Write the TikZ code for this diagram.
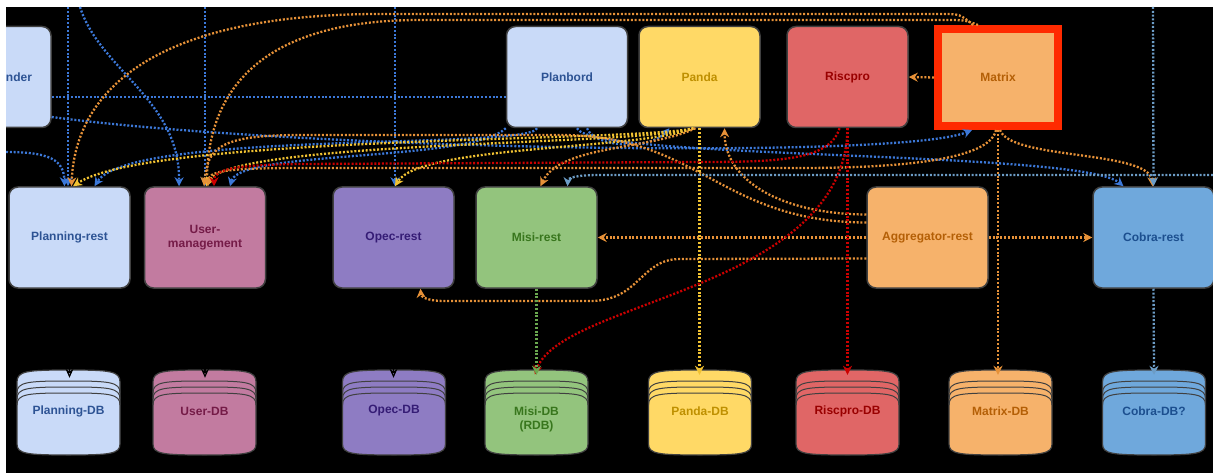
\documentclass[tikz,border=0pt]{standalone}
\usepackage{fontspec}
\setmainfont{Liberation Sans}
\usetikzlibrary{arrows.meta,positioning}

\definecolor{planblue}{HTML}{C9DAF8}
\definecolor{plantext}{HTML}{2D5394}
\definecolor{pandayel}{HTML}{FFD966}
\definecolor{pandatext}{HTML}{BF9000}
\definecolor{riscred}{HTML}{E06666}
\definecolor{risctext}{HTML}{990000}
\definecolor{matrixorg}{HTML}{F6B26B}
\definecolor{matrixtext}{HTML}{B45F06}
\definecolor{matrixframe}{HTML}{FF2A00}
\definecolor{userpink}{HTML}{C27BA0}
\definecolor{usertext}{HTML}{741B47}
\definecolor{opecpurple}{HTML}{8E7CC3}
\definecolor{opectext}{HTML}{351C75}
\definecolor{misigreen}{HTML}{93C47D}
\definecolor{misitext}{HTML}{38761D}
\definecolor{cobrablue}{HTML}{6FA8DC}
\definecolor{cobratext}{HTML}{1C4F8F}
\definecolor{boxedge}{HTML}{404040}
\definecolor{lblue}{HTML}{3C78D8}
\definecolor{lorange}{HTML}{E69138}
\definecolor{lyellow}{HTML}{F1C232}
\definecolor{lred}{HTML}{CC0000}
\definecolor{lteal}{HTML}{6C9CC6}
\definecolor{lgreen}{HTML}{6AA84F}

% database drum: name, x, fill, text colour, text y, label
\newcommand{\dbstore}[6]{%
  \path[fill=#3, draw=boxedge, line width=1.2pt]
    (#2-51.5,382) .. controls (#2-51.5,371) and (#2-41.5,370) .. (#2,370)
    .. controls (#2+41.5,370) and (#2+51.5,371) .. (#2+51.5,382) -- (#2+51.5,444)
    .. controls (#2+51.5,454) and (#2+41.5,455) .. (#2,455)
    .. controls (#2-41.5,455) and (#2-51.5,454) .. (#2-51.5,444) -- cycle;
  \foreach \k in {11,17,23}
    \draw[boxedge, line width=1pt] (#2-51.5,382+\k) .. controls (#2-51.5,371+\k) and (#2-41.5,370+\k) .. (#2,370+\k)
      .. controls (#2+41.5,370+\k) and (#2+51.5,371+\k) .. (#2+51.5,382+\k);
  \node[store] (#1) at (#2,412.5) {};
  \node[storetext, text=#4] at (#2,#5) {#6};
}

\begin{document}
\begin{tikzpicture}[
  x=1pt, y=-1pt,
  box/.style={rectangle, rounded corners=9pt, draw=boxedge, line width=1.5pt, minimum width=121pt, minimum height=101pt, align=center, font=\bfseries\fontsize{12}{14}\selectfont},
  store/.style={rectangle, minimum width=103pt, minimum height=85pt, inner sep=0pt},
  storetext/.style={align=center, font=\bfseries\fontsize{12}{14}\selectfont},
  plainflow/.style={dash pattern=on 2pt off 1.8pt, line width=2.3pt},
  flow/.style={plainflow, -{Stealth[length=9pt, width=9pt]}},
  into/.style={shorten >=-5pt},
  dbflow/.style={black, line width=1.2pt, shorten >=-8pt, -{Stealth[open, length=9pt, width=8pt]}}
]
\useasboundingbox (0,0) rectangle (1213,473);
\fill[white] (0,0) rectangle (1213,473);
\fill[black] (6,7) rectangle (1213,473);

\begin{scope}
\clip (6,7) rectangle (1213,473);

% top row
\node[box, fill=planblue, text=plantext, text width=83pt, inner xsep=19pt, align=right] (nder) at (-9.5,77) {nder};
\node[box, fill=planblue, text=plantext] (planbord) at (567,77) {Planbord};
\node[box, fill=pandayel, text=pandatext] (panda) at (699.5,77) {Panda};
\node[box, fill=riscred, text=risctext] (riscpro) at (847.5,77) {Riscpro};
\node[box, rounded corners=0pt, fill=matrixorg, text=matrixtext, draw=matrixframe, line width=8pt, minimum width=120pt, minimum height=97pt] (matrix) at (998,77.5) {Matrix};

% rest services
\node[box, fill=planblue, text=plantext] (planningrest) at (69.5,237.5) {Planning-rest};
\node[box, fill=userpink, text=usertext] (usermgmt) at (205,237.5) {User-\\management};
\node[box, fill=opecpurple, text=opectext] (opecrest) at (393.5,237.5) {Opec-rest};
\node[box, fill=misigreen, text=misitext] (misirest) at (536.5,237.5) {Misi-rest};
\node[box, fill=matrixorg, text=matrixtext] (aggregator) at (927.5,237.5) {Aggregator-rest};
\node[box, fill=cobrablue, text=cobratext] (cobrarest) at (1153.5,237.5) {Cobra-rest};

% databases
\dbstore{planningdb}{68.5}{planblue}{plantext}{411}{Planning-DB}
\dbstore{userdb}{204.5}{userpink}{usertext}{411}{User-DB}
\dbstore{opecdb}{394}{opecpurple}{opectext}{411}{Opec-DB}
\dbstore{misidb}{536.5}{misigreen}{misitext}{419}{Misi-DB\\(RDB)}
\dbstore{pandadb}{700}{pandayel}{pandatext}{411}{Panda-DB}
\dbstore{riscprodb}{847.5}{riscred}{risctext}{411}{Riscpro-DB}
\dbstore{matrixdb}{1000.5}{matrixorg}{matrixtext}{411}{Matrix-DB}
\dbstore{cobradb}{1154}{cobrablue}{cobratext}{411}{Cobra-DB?}

% sources outside the picture
\coordinate (src-a) at (68,7);
\coordinate (src-b) at (80,7);
\coordinate (src-c) at (205,7);
\coordinate (src-d) at (395,7);
\coordinate (src-e) at (6,152);
\coordinate (src-f) at (1153,7);
\coordinate (src-g) at (1213,175);

% blue
\draw[flow, lblue] (src-a) -- ([xshift=-1.5pt]planningrest.north);
\draw[flow, lblue] (src-c) -- (usermgmt.north);
\draw[flow, lblue] (src-d) -- ([xshift=1.5pt]opecrest.north);
\draw[flow, lblue] (src-b) .. controls (100,70) and (180,100) .. ([xshift=-26pt]usermgmt.north);
\draw[flow, lblue] (src-e) .. controls (50,152) and (64,160) .. ([xshift=-5pt]planningrest.north);
\draw[plainflow, lblue] ([yshift=-20pt]nder.east) -- ([yshift=-20pt]planbord.west);
\draw[flow, lblue] ([xshift=-30pt]planbord.south) .. controls (530,150) and (130,130) .. ([xshift=25pt]planningrest.north);
\draw[flow, lblue] ([xshift=20pt]planbord.south) .. controls (595,148) and (650,150) .. ([xshift=-30pt]panda.south);
\draw[flow, lblue] ([yshift=-40pt]nder.east) .. controls (300,150) and (900,160) .. ([xshift=-26pt]matrix.south);
\draw[flow, lblue] ([xshift=10pt]planbord.south) .. controls (590,160) and (1080,150) .. ([xshift=-30pt]cobrarest.north);
\draw[flow, lblue] (planbord.south west) .. controls (470,162) and (240,150) .. ([xshift=25pt]usermgmt.north);

% orange / yellow
\draw[flow, lorange] ([xshift=-25pt]matrix.north) .. controls (960,14) .. (940,14) -- (380,14) .. controls (140,14) and (75,100) .. ([xshift=2pt]planningrest.north);
\draw[flow, lorange] ([xshift=-20pt]matrix.north) .. controls (965,20) .. (945,20) -- (420,20) .. controls (250,20) and (207,100) .. ([xshift=2pt]usermgmt.north);
\draw[flow, lyellow] ([xshift=-6pt]panda.south) .. controls (640,142) and (150,135) .. ([xshift=3.5pt]planningrest.north);
\draw[flow, lyellow] ([xshift=-6pt]panda.south) .. controls (640,146) and (230,140) .. ([xshift=1pt]usermgmt.north);
\draw[flow, lyellow] ([xshift=-6pt]panda.south) .. controls (640,150) and (420,145) .. ([xshift=1.5pt]opecrest.north);
\draw[flow, lorange] ([xshift=-4pt]panda.south) .. controls (650,150) and (560,145) .. ([xshift=4pt]misirest.north);
\draw[flow, lorange] ([yshift=15pt]aggregator.west) .. controls (720,222) and (700,135) .. (560,135) -- (300,135) .. controls (215,135) and (208,150) .. ([xshift=-1pt]usermgmt.north);
\draw[flow, lorange] ([xshift=-2pt]matrix.south) .. controls (990,160) and (900,168) .. (800,168) -- (300,168) .. controls (220,168) and (209,172) .. ([xshift=3pt]usermgmt.north);
\draw[flow, lorange] ([xshift=2pt]matrix.south) .. controls (1010,160) and (1150,150) .. ([xshift=-1pt]cobrarest.north);
\draw[flow, lorange, into] (matrix.south) -- (matrix.south |- matrixdb.north);
\draw[flow, lorange] (matrix.west) -- (riscpro.east);
\draw[flow, lorange] (aggregator.west) -- (misirest.east);
\draw[flow, lorange] (aggregator.east) -- (cobrarest.west);
\draw[flow, lorange] ([yshift=-21pt]aggregator.west) -- (680,259) .. controls (640,259) and (640,301) .. (590,301) -- (445,301) .. controls (425,301) and (421,296) .. ([xshift=27pt]opecrest.south);
\draw[flow, lorange] ([yshift=23pt]aggregator.west) .. controls (780,214) and (725,180) .. ([xshift=25pt]panda.south);
\draw[flow, lyellow, into] (panda.south) -- (panda.south |- pandadb.north);

% red
\draw[flow, lred, into] (riscpro.south) -- (riscprodb.north);
\draw[flow, lred, into] (riscpro.south) .. controls (845,290) and (560,300) .. (misidb.north);
\draw[flow, lred] ([xshift=-8pt]riscpro.south) .. controls (830,160) and (780,162) .. (700,162) -- (300,164) .. controls (230,165) and (214,170) .. ([xshift=9pt]usermgmt.north);

% teal and green
\draw[flow, lteal] (src-f) -- (cobrarest.north);
\draw[flow, lteal] (src-g) -- (600,175) .. controls (575,175) and (568,178) .. ([xshift=31pt]misirest.north);
\draw[flow, lteal, into] (cobrarest.south) -- (cobradb.north);
\draw[flow, lgreen, into] (misirest.south) -- (misidb.north);

% rest to storage
\draw[dbflow] (planningrest.south) -- (planningrest.south |- planningdb.north);
\draw[dbflow] (usermgmt.south) -- (usermgmt.south |- userdb.north);
\draw[dbflow] (opecrest.south) -- (opecrest.south |- opecdb.north);
\end{scope}
\end{tikzpicture}
\end{document}
